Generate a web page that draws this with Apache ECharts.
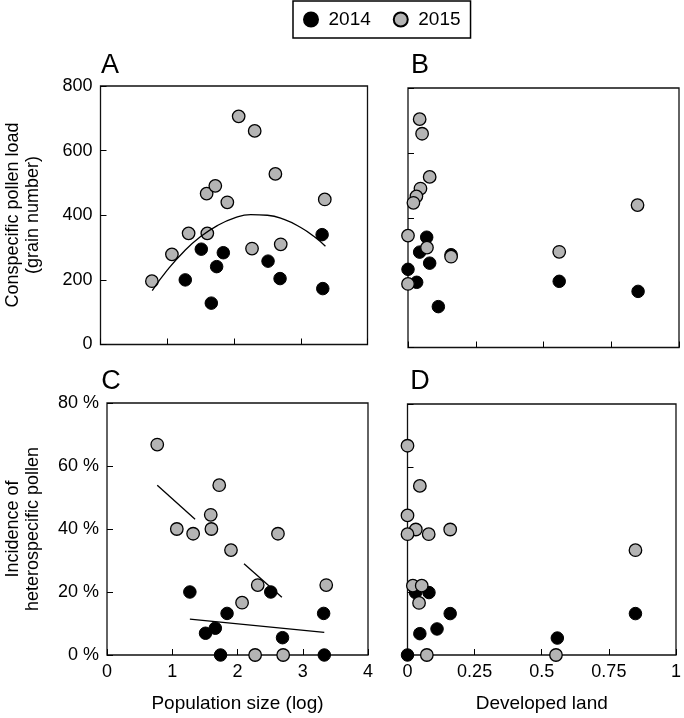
<!DOCTYPE html>
<html>
<head>
<meta charset="utf-8">
<script src="https://cdn.jsdelivr.net/npm/echarts@6/dist/echarts.min.js"></script>
<style>
html,body{margin:0;padding:0;background:#fff;}
#chart{width:684px;height:718px;}
</style>
</head>
<body>
<div id="chart"></div>
<script>
// ---- data ----
const years = ['2014', '2015'];

// Panels A & C: population size (log)
const popLog2014 = [1.27, 1.51, 1.66, 1.74, 1.84, 2.51, 2.69, 3.32, 3.33];
const pollen2014 = [200, 295, 128, 241, 284, 258, 204, 340, 173];
const hetero2014 = [20.0, 6.9, 8.5, 0, 13.2, 20.0, 5.5, 13.2, 0];

const popLog2015 = [0.77, 1.07, 1.32, 1.60, 1.59, 1.72, 1.90, 2.07, 2.31, 2.27, 2.62, 2.70, 3.36];
const pollen2015 = [196, 279, 344, 344, 467, 491, 440, 706, 661, 297, 528, 310, 449];
const hetero2015 = [66.8, 40.0, 38.5, 40.0, 44.5, 53.9, 33.3, 16.6, 22.2, 0, 38.5, 0, 22.2];

// Panel B: developed land vs conspecific pollen
const devB2014 = [0.069, 0.043, 0.080, 0.159, 0, 0.032, 0.112, 0.558, 0.849];
const pollenB2014 = [340, 294, 260, 286, 241, 201, 126, 204, 173];
const devB2015 = [0.043, 0.052, 0.080, 0.046, 0.031, 0.020, 0, 0.070, 0.159, 0.558, 0.847, 0];
const pollenB2015 = [704, 659, 526, 490, 466, 446, 345, 308, 280, 295, 439, 196];

// Panel D: developed land vs heterospecific incidence
const devD2014 = [0.030, 0.080, 0.159, 0.849, 0.110, 0.046, 0.558, 0];
const heteroD2014 = [19.9, 19.9, 13.2, 13.2, 8.3, 6.8, 5.4, 0];
const devD2015 = [0, 0.046, 0, 0.031, 0.079, 0, 0.159, 0.849, 0.020, 0.053, 0.043, 0.072, 0.553];
const heteroD2015 = [66.7, 53.9, 44.5, 40.0, 38.5, 38.5, 40.0, 33.4, 22.1, 22.1, 16.6, 0, 0];

// Fitted lines
const fitAx = [0.775, 1.0, 1.25, 1.5, 1.75, 2.0, 2.25, 2.5, 2.75, 3.0, 3.2, 3.37];
const fitAy = [167, 230, 288, 334, 368, 391, 402, 400, 387, 362, 334, 304];
const fitC2015aX = [0.77, 1.35];
const fitC2015aY = [53.9, 43.1];
const fitC2015bX = [2.10, 2.68];
const fitC2015bY = [29.0, 18.3];
const fitC2014X = [1.27, 3.33];
const fitC2014Y = [11.4, 7.2];

// tick settings
const popTicks = {min: 0, max: 4, interval: 1};
const devTicks = {min: 0, max: 1, interval: 0.25};
const pollenTicks = {min: 0, max: 800, interval: 200};
const heteroTicks = {min: 0, max: 80, interval: 20};

// ---- chart ----
const zip = (xs, ys) => xs.map((x, i) => [x, ys[i]]);
const FONT = 'Liberation Sans, Arial, sans-serif';
const GRAY = '#b4b4b4';

const black = {color: '#000', borderColor: '#000', borderWidth: 1, opacity: 1};
const gray = {color: GRAY, borderColor: '#000', borderWidth: 1.3, opacity: 1};

function scatter(name, xi, data, style) {
  return {type: 'scatter', name: name, xAxisIndex: xi, yAxisIndex: xi, data: data,
    symbol: 'circle', symbolSize: 12.5, itemStyle: style, clip: false, silent: true};
}
function line(xi, data, smooth) {
  return {type: 'line', xAxisIndex: xi, yAxisIndex: xi, data: data, smooth: smooth,
    symbol: 'none', showSymbol: false, silent: true, z: 5,
    lineStyle: {color: '#000', width: 1.3}};
}
const tickStyle = {show: true, inside: true, length: 6, lineStyle: {color: '#000', width: 1}};
const labelStyle = {color: '#000', fontSize: 18, fontFamily: FONT};

function xAx(grid, ticks, showLabel, name) {
  return Object.assign({type: 'value', gridIndex: grid,
    axisLine: {show: false}, axisTick: tickStyle, splitLine: {show: false},
    axisLabel: Object.assign({show: showLabel, margin: 8}, labelStyle),
    name: name || '', nameLocation: 'middle', nameGap: 49,
    nameTextStyle: {color: '#000', fontSize: 19, fontFamily: FONT, verticalAlign: 'middle'}
  }, ticks);
}
function yAx(grid, ticks, showLabel, fmt) {
  return Object.assign({type: 'value', gridIndex: grid,
    axisLine: {show: false}, axisTick: tickStyle, splitLine: {show: false},
    axisLabel: Object.assign({show: showLabel, margin: 8, formatter: fmt}, labelStyle)
  }, ticks);
}
const gridStyle = {show: true, borderColor: '#111', borderWidth: 1.3, backgroundColor: 'transparent'};

const chart = echarts.init(document.getElementById('chart'), null, {renderer: 'canvas'});
chart.setOption({
  animation: false,
  backgroundColor: '#fff',
  textStyle: {fontFamily: FONT},
  legend: {
    data: years, left: 293, top: 1, orient: 'horizontal', selectedMode: false,
    itemWidth: 19, itemHeight: 14, itemGap: 22,
    padding: [9, 10, 9, 10],
    borderColor: '#000', borderWidth: 1.5,
    textStyle: {color: '#000', fontSize: 19, fontFamily: FONT, padding: [0, 0, 0, 3]}
  },
  grid: [
    Object.assign({left: 100.5, top: 86, width: 267, height: 258.5}, gridStyle),
    Object.assign({left: 408, top: 88, width: 271, height: 259.5}, gridStyle),
    Object.assign({left: 107, top: 403, width: 261, height: 252}, gridStyle),
    Object.assign({left: 407.5, top: 404, width: 272, height: 251}, gridStyle)
  ],
  xAxis: [
    xAx(0, popTicks, false),
    xAx(1, devTicks, false),
    xAx(2, popTicks, true, 'Population size (log)'),
    xAx(3, devTicks, true, 'Developed land')
  ],
  yAxis: [
    yAx(0, pollenTicks, true),
    yAx(1, pollenTicks, false),
    yAx(2, heteroTicks, true, '{value} %'),
    yAx(3, heteroTicks, false)
  ],
  graphic: [
    {type: 'text', x: 110, y: 66, style: {text: 'A', font: '27px ' + FONT, fill: '#000', textAlign: 'center', textVerticalAlign: 'middle'}},
    {type: 'text', x: 420, y: 66, style: {text: 'B', font: '27px ' + FONT, fill: '#000', textAlign: 'center', textVerticalAlign: 'middle'}},
    {type: 'text', x: 111, y: 382, style: {text: 'C', font: '27px ' + FONT, fill: '#000', textAlign: 'center', textVerticalAlign: 'middle'}},
    {type: 'text', x: 420, y: 382, style: {text: 'D', font: '27px ' + FONT, fill: '#000', textAlign: 'center', textVerticalAlign: 'middle'}},
    {type: 'text', x: 13, y: 215, rotation: Math.PI / 2, style: {text: 'Conspecific pollen load', font: '18px ' + FONT, fill: '#000', textAlign: 'center', textVerticalAlign: 'middle'}},
    {type: 'text', x: 33, y: 215, rotation: Math.PI / 2, style: {text: '(grain number)', font: '18px ' + FONT, fill: '#000', textAlign: 'center', textVerticalAlign: 'middle'}},
    {type: 'text', x: 13, y: 529, rotation: Math.PI / 2, style: {text: 'Incidence of', font: '18px ' + FONT, fill: '#000', textAlign: 'center', textVerticalAlign: 'middle'}},
    {type: 'text', x: 33, y: 529, rotation: Math.PI / 2, style: {text: 'heterospecific pollen', font: '18px ' + FONT, fill: '#000', textAlign: 'center', textVerticalAlign: 'middle'}}
  ],
  series: [
    scatter('2014', 0, zip(popLog2014, pollen2014), black),
    scatter('2015', 0, zip(popLog2015, pollen2015), gray),
    line(0, zip(fitAx, fitAy), true),
    scatter('2014', 1, zip(devB2014, pollenB2014), black),
    scatter('2015', 1, zip(devB2015, pollenB2015), gray),
    scatter('2014', 2, zip(popLog2014, hetero2014), black),
    scatter('2015', 2, zip(popLog2015, hetero2015), gray),
    line(2, zip(fitC2015aX, fitC2015aY), false),
    line(2, zip(fitC2015bX, fitC2015bY), false),
    line(2, zip(fitC2014X, fitC2014Y), false),
    scatter('2014', 3, zip(devD2014, heteroD2014), black),
    scatter('2015', 3, zip(devD2015, heteroD2015), gray)
  ]
});
</script>
</body>
</html>
